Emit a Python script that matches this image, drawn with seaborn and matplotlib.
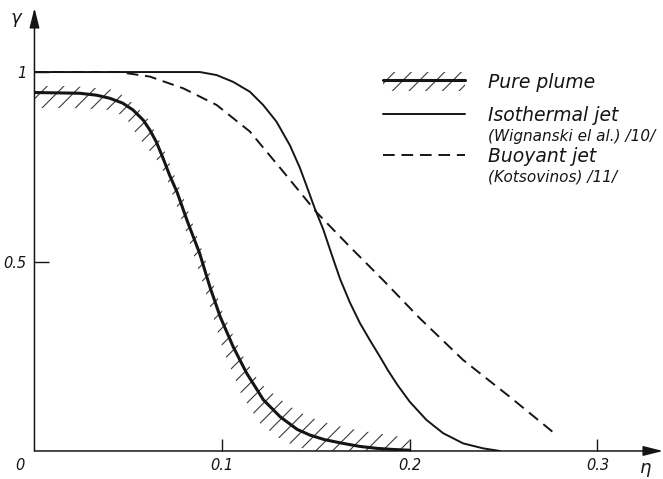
import numpy as np
import pandas as pd
import matplotlib
matplotlib.use("Agg")
import matplotlib.pyplot as plt
import seaborn as sns
from matplotlib.lines import Line2D
from matplotlib.patches import Patch

# Pure plume profile (thick line)
plume_eta = [0.0, 0.024, 0.033, 0.040, 0.047, 0.0525, 0.058, 0.0615, 0.065, 0.0685,
             0.072, 0.076, 0.079, 0.0815, 0.088, 0.0935, 0.099, 0.106, 0.113, 0.122,
             0.131, 0.140, 0.1468, 0.1545, 0.1645, 0.1735, 0.1823, 0.191, 0.2]
plume_gamma = [0.946, 0.944, 0.939, 0.931, 0.918, 0.900, 0.873, 0.847, 0.815, 0.773,
               0.728, 0.683, 0.641, 0.606, 0.522, 0.433, 0.354, 0.274, 0.206, 0.135,
               0.090, 0.057, 0.042, 0.030, 0.020, 0.012, 0.007, 0.004, 0.002]

# hatched scatter band around the pure plume curve
band_eta = [0.0, 0.02, 0.04, 0.045, 0.05, 0.055, 0.06, 0.065, 0.07, 0.08, 0.09, 0.10,
            0.11, 0.12, 0.13, 0.14, 0.15, 0.16, 0.17, 0.18, 0.19, 0.20]
band_upper = [0.963, 0.963, 0.955, 0.945, 0.928, 0.905, 0.88, 0.835, 0.785, 0.66, 0.52, 0.37,
              0.26, 0.18, 0.14, 0.105, 0.083, 0.068, 0.057, 0.049, 0.041, 0.034]
band_lower = [0.905, 0.905, 0.90, 0.89, 0.87, 0.83, 0.80, 0.77, 0.725, 0.59, 0.44, 0.275,
              0.152, 0.074, 0.035, 0.01, 0.0, 0.0, 0.0, 0.0, 0.0, 0.0]

# Isothermal jet (Wignanski et al.)
iso_eta = [0.0, 0.0615, 0.0882, 0.0971, 0.1059, 0.1148, 0.1219, 0.129, 0.1361, 0.1414,
           0.145, 0.1494, 0.1539, 0.1583, 0.1628, 0.1681, 0.1734, 0.1787, 0.1841, 0.1885,
           0.1935, 0.2, 0.2089, 0.2178, 0.2285, 0.2391, 0.248]
iso_gamma = [1.0, 1.0, 1.0, 0.992, 0.974, 0.948, 0.913, 0.869, 0.807, 0.748,
             0.70, 0.64, 0.585, 0.52, 0.455, 0.392, 0.338, 0.293, 0.249, 0.212,
             0.174, 0.13, 0.082, 0.047, 0.020, 0.007, 0.0]

# Buoyant jet (Kotsovinos)
buoy_eta = [0.0, 0.045, 0.0615, 0.0793, 0.0971, 0.1148, 0.1326, 0.1503, 0.1681, 0.1858,
            0.2054, 0.2285, 0.2533, 0.2763]
buoy_gamma = [1.0, 1.0, 0.988, 0.957, 0.913, 0.843, 0.737, 0.630, 0.539, 0.451,
              0.350, 0.240, 0.143, 0.050]

x_ticks = [0.1, 0.2, 0.3]
x_ticklabels = ["0.1", "0.2", "0.3"]
y_ticks = [0.5, 1.0]
y_ticklabels = ["0.5", "1"]

ink = "#151515"


def main():
    sns.set_style("white")
    plt.rcParams['font.family'] = ['DejaVu Sans']
    plt.rcParams['hatch.linewidth'] = 0.8

    fig = plt.figure(figsize=(6.63, 4.79), dpi=100)
    ax = fig.add_axes([0.052, 0.0585, 0.948, 0.9248])

    ax.fill_between(band_eta, band_lower, band_upper, facecolor="none",
                    edgecolor="#3a3a3a", hatch="//", linewidth=0)

    plume = pd.DataFrame({"eta": plume_eta, "gamma": plume_gamma})
    iso = pd.DataFrame({"eta": iso_eta, "gamma": iso_gamma})
    buoy = pd.DataFrame({"eta": buoy_eta, "gamma": buoy_gamma})

    sns.lineplot(data=buoy, x="eta", y="gamma", ax=ax, color=ink, lw=1.4,
                 linestyle=(0, (6, 3.5)), estimator=None, sort=False)
    sns.lineplot(data=iso, x="eta", y="gamma", ax=ax, color=ink, lw=1.4,
                 estimator=None, sort=False)
    sns.lineplot(data=plume, x="eta", y="gamma", ax=ax, color=ink, lw=2.2,
                 estimator=None, sort=False)

    ax.set_xlim(0, 0.335)
    ax.set_ylim(0, 1.169)
    for s in ax.spines.values():
        s.set_visible(False)

    # axes drawn as arrows
    arrow = dict(arrowstyle="-|>,head_length=0.6,head_width=0.15", color=ink,
                 lw=1.1, shrinkA=0, shrinkB=0, mutation_scale=20)
    ax.annotate("", xy=(0, 1), xytext=(0, 0), xycoords="axes fraction", arrowprops=arrow)
    ax.annotate("", xy=(1.0, 0), xytext=(0, 0), xycoords="axes fraction", arrowprops=arrow)

    tick_font = dict(fontsize=10.5, fontstyle="italic", color=ink)
    ax.set_xticks(x_ticks)
    ax.set_xticklabels(x_ticklabels, **tick_font)
    ax.set_yticks(y_ticks)
    ax.set_yticklabels(y_ticklabels, **tick_font)
    ax.tick_params(axis="x", bottom=True, direction="in", length=9, width=1.0,
                   color=ink, pad=5)
    ax.tick_params(axis="y", left=True, direction="in", length=11, width=1.0,
                   color=ink, pad=6)
    ax.set_xlabel("")
    ax.set_ylabel("")

    fig.text(20 / 663, 1 - 465 / 479, "0", ha="center", va="center", **tick_font)
    fig.text(16 / 663, 1 - 18 / 479, "γ", ha="center", va="center", fontsize=13,
             fontstyle="italic", color=ink)
    fig.text(646 / 663, 1 - 468 / 479, "η", ha="center", va="center", fontsize=13,
             fontstyle="italic", color=ink)

    # legend: pure plume
    h_plume = (Patch(facecolor="none", edgecolor="#3a3a3a", hatch="//", linewidth=0),
               Line2D([], [], color=ink, lw=2.2))
    leg1 = ax.legend([h_plume], ["Pure plume"], loc="upper left",
                     bbox_to_anchor=(383 / 663, 1 - 72 / 479), bbox_transform=fig.transFigure,
                     frameon=False, borderpad=0, borderaxespad=0, handlelength=4.4,
                     handleheight=1.2, handletextpad=1.2,
                     prop=dict(size=13.5, style="italic"))
    ax.add_artist(leg1)

    blank = Line2D([], [], linestyle="none")
    h_iso = Line2D([], [], color=ink, lw=1.4)
    h_buoy = Line2D([], [], color=ink, lw=1.4, linestyle=(0, (6, 3.5)))
    leg2 = ax.legend([h_iso, blank, h_buoy, blank],
                     ["Isothermal jet", "(Wignanski el al.) /10/",
                      "Buoyant jet", "(Kotsovinos) /11/"],
                     loc="upper left", bbox_to_anchor=(383 / 663, 1 - 106 / 479),
                     bbox_transform=fig.transFigure, frameon=False, borderpad=0,
                     borderaxespad=0, handlelength=4.4, handletextpad=1.2,
                     labelspacing=0.15, prop=dict(size=13.5, style="italic"))
    for i in (1, 3):
        leg2.get_texts()[i].set_fontsize(11)
    for t in list(leg1.get_texts()) + list(leg2.get_texts()):
        t.set_color(ink)

    fig.savefig("out.png", dpi=100)


if __name__ == '__main__':
    main()
